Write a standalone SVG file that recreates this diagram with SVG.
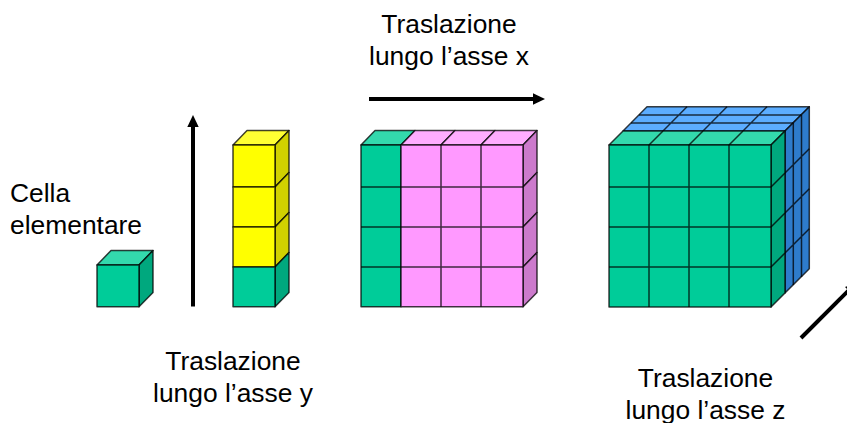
<svg xmlns="http://www.w3.org/2000/svg" width="847" height="423" viewBox="0 0 847 423">
<style>
text{font-family:"Liberation Sans",Arial,sans-serif;font-size:26.4px;fill:#000;text-anchor:middle}
.e{stroke:#000;stroke-opacity:.75;stroke-width:1.5;stroke-linejoin:round}
.gf{fill:#00cc99}.gt{fill:#33d9ad}.gs{fill:#00a87e}
.yf{fill:#ffff00}.yt{fill:#ffff33}.ys{fill:#d1d100}
.pf{fill:#ff99ff}.pt{fill:#ffadff}.ps{fill:#cc7acc}
.bt{fill:#5cadff}.bs{fill:#2e7ccc}
</style>
<rect width="847" height="423" fill="#fff"/>
<g id="connectors">
<path d="M193 306.5V126" stroke="#000" stroke-width="4" fill="none"/><path d="M187.3 127L193 115L198.7 127Z"/>
<path d="M369 99H534" stroke="#000" stroke-width="4" fill="none"/><path d="M533 93.3L545 99L533 104.7Z"/>
<path d="M801 338L850 289" stroke="#000" stroke-width="4" fill="none"/><path d="M845 287L858 282L853 295Z"/>
</g>
<g id="cell">
<path class="gt e" d="M97 265L111 250.5H153L139 265Z"/><path class="gs e" d="M139 265L153 250.5V292.5L139 306.7Z"/><rect class="gf e" x="97" y="265" width="42" height="41.7"/>
</g>
<g id="column">
<path class="yt e" d="M233 145L247 130.5H289L275 145Z"/>
<path class="ys e" d="M275 145L289 130.5V172.5L275 187Z"/><path class="ys e" d="M275 187L289 172.5V212.5L275 227Z"/><path class="ys e" d="M275 227L289 212.5V252.5L275 267Z"/><path class="gs e" d="M275 267L289 252.5V292.5L275 306.7Z"/>
<rect class="yf e" x="233" y="145" width="42" height="42"/><rect class="yf e" x="233" y="187" width="42" height="40"/><rect class="yf e" x="233" y="227" width="42" height="40"/><rect class="gf e" x="233" y="267" width="42" height="39.7"/>
</g>
<g id="plane">
<path class="gt e" d="M361 145L375 130.5H415L401 145Z"/>
<path class="pt e" d="M401 145L415 130.5H455L441 145Z"/><path class="pt e" d="M441 145L455 130.5H495L481 145Z"/><path class="pt e" d="M481 145L495 130.5H537L523 145Z"/>
<path class="ps e" d="M523 145L537 130.5V172.5L523 187Z"/><path class="ps e" d="M523 187L537 172.5V212.5L523 227Z"/><path class="ps e" d="M523 227L537 212.5V252.5L523 267Z"/><path class="ps e" d="M523 267L537 252.5V292.5L523 306.7Z"/>
<path class="gf e" d="M361 145H401V306.7H361Z"/>
<path class="pf e" d="M401 145H523V306.7H401Z"/>
<path class="e" fill="none" d="M361 187H523M361 227H523M361 267H523M441 145V306.7M481 145V306.7"/>
</g>
<g id="block">
<path class="bt e" d="M623 131L647 106.7H809.3L785 131Z"/>
<path class="e" fill="none" d="M631 123H793.3M639 115H801.5M663 131L687 106.7M703 131L727 106.7M743 131L767 106.7"/>
<path class="bs e" d="M785 131L809.3 106.7V268.7L785 293Z"/>
<path class="e" fill="none" d="M793.3 123V285M801.5 115V277M785 173L809.3 148.7M785 213L809.3 188.7M785 253L809.3 228.7"/>
<path class="gt e" d="M609 145L623 131H785L771 145Z"/>
<path class="e" fill="none" d="M649 145L663 131M689 145L703 131M729 145L743 131"/>
<path class="gs e" d="M771 145L785 131V293L771 307Z"/>
<path class="e" fill="none" d="M771 187L785 173M771 227L785 213M771 267L785 253"/>
<rect class="gf e" x="609" y="145" width="162" height="162"/>
<path class="e" fill="none" d="M609 187H771M609 227H771M609 267H771M649 145V307M689 145V307M729 145V307"/>
</g>
<g id="labels">
<text x="10" y="201.5" style="text-anchor:start">Cella</text>
<text x="10" y="233.5" style="text-anchor:start">elementare</text>
<text x="449" y="33">Traslazione</text>
<text x="449" y="64.5">lungo l’asse x</text>
<text x="233" y="370">Traslazione</text>
<text x="233" y="401.5">lungo l’asse y</text>
<text x="705.5" y="387">Traslazione</text>
<text x="705.5" y="418.5">lungo l’asse z</text>
</g>
</svg>
